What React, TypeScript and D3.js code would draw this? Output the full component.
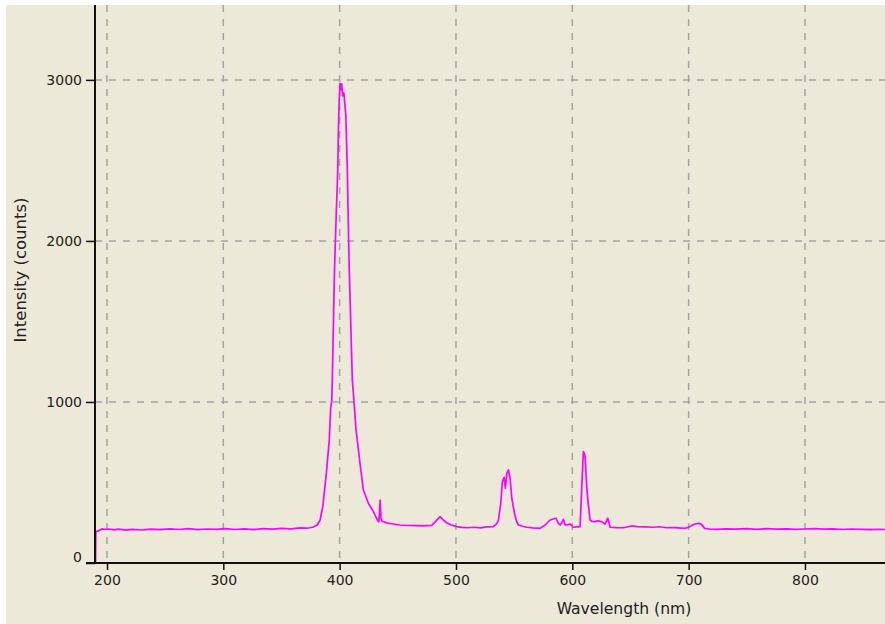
import React, { useEffect, useRef } from "react";
import * as d3 from "d3";

// spectrum, wavelength (nm) / intensity (counts)
const wavelengthNm = [
  190.2, 190.4, 192, 194, 196, 198, 202, 206, 210, 216, 222, 230, 238, 246, 254,
  262, 270, 278, 286, 294, 302, 310, 318, 326, 334, 342, 350, 358, 366, 372, 377,
  380.8, 383.2, 385.5, 388.3, 391.1, 392.3, 393.2, 393.7, 395.5, 397, 398.4, 398.9,
  399.5, 400.3, 401, 401.8, 402.5, 403.6, 405.3, 406.6, 408, 409.5, 410.9, 411.8,
  414.1, 417.5, 420.4, 424.7, 429, 432.4, 433.6, 434.2, 434.8, 435.5, 436, 437.6,
  441, 446.2, 452, 458, 466.3, 472, 479.2, 483, 486.3, 489, 492, 496, 500.6, 505,
  509.2, 516, 521, 526.4, 532.2, 535, 536.5, 538.5, 539.9, 541.4, 542.5, 543.7,
  545.1, 546.5, 548, 550.3, 552, 553.7, 557, 560.9, 566, 572.3, 576.6, 580.9, 583,
  586, 588, 589.5, 591, 592.3, 593.8, 596, 598.1, 600.9, 604, 606.7, 608.1, 609.5,
  610.3, 611, 612.4, 613.8, 615.3, 617, 619.6, 622, 625.3, 628.2, 630.5, 632.5, 638,
  643.9, 651.1, 656, 662, 669.7, 675, 680.8, 688, 696.6, 700, 705.2, 709.5, 711,
  713.8, 718, 723.8, 732, 740, 750, 758, 766.8, 775, 784, 792, 800, 808, 816, 824,
  832, 840, 848, 856, 864, 868.8,
];
const intensityCounts = [
  0, 196, 198, 205, 212, 208, 211, 206, 210, 204, 209, 205, 210, 207, 212,
  208, 213, 207, 211, 209, 214, 208, 212, 207, 213, 210, 215, 212, 218, 216, 222,
  236, 267, 350, 536, 764, 963, 1002, 1137, 1800, 2150, 2441, 2679,
  2850, 2979, 2940, 2975, 2900, 2919, 2783, 2441, 1900, 1500, 1137, 1054,
  826, 619, 453, 371, 319, 267, 255, 300, 390, 280, 262, 257,
  248, 242, 236, 233, 232, 230, 234, 262, 288, 268, 250, 236, 226, 221,
  219, 222, 218, 224, 226, 245, 267, 371, 505, 532, 464, 557,
  578, 526, 402, 309, 260, 236, 228, 222, 218, 215, 236, 267, 272,
  278, 246, 236, 250, 271, 236, 238, 242, 222, 224, 226, 464, 691,
  680, 660, 474, 360, 267, 258, 257, 262, 257, 242, 278, 222, 220,
  219, 230, 226, 224, 222, 225, 219, 220, 215, 222, 242, 246, 240,
  215, 211, 209, 212, 210, 213, 209, 213, 210, 212, 209, 211, 213, 210, 212,
  208, 211, 209, 207, 209, 208,
];
const xTicks = [200, 300, 400, 500, 600, 700, 800];
const yTicks = [0, 1000, 2000, 3000];

export default function App() {
  const svgRef = useRef<SVGSVGElement>(null);

  useEffect(() => {
    const svg = d3.select(svgRef.current);
    svg.selectAll("*").remove();

    const width = 885;
    const height = 624;
    const left = 95;
    const right = 885;
    const top = 5;
    const bottom = 563;
    const font = "DejaVu Sans, Verdana, sans-serif";

    svg.append("rect").attr("width", width).attr("height", height).attr("fill", "#fff");
    svg
      .append("rect")
      .attr("x", 6)
      .attr("y", 5)
      .attr("width", width - 6)
      .attr("height", height - 5)
      .attr("fill", "#ECE9D8");

    const x = d3.scaleLinear().domain([189.7, 868.8]).range([left, right]);
    const y = d3.scaleLinear().domain([0, 3465]).range([bottom, top]);

    // grid
    const grid = svg.append("g").attr("stroke", "#a3a3a3").attr("stroke-width", 1.5).attr("stroke-dasharray", "7,7");
    grid
      .selectAll("line.v")
      .data(xTicks)
      .join("line")
      .attr("class", "v")
      .attr("x1", (d) => x(d))
      .attr("x2", (d) => x(d))
      .attr("y1", top)
      .attr("y2", bottom);
    grid
      .selectAll("line.h")
      .data(yTicks.filter((d) => d > 0))
      .join("line")
      .attr("class", "h")
      .attr("x1", left)
      .attr("x2", right)
      .attr("y1", (d) => y(d))
      .attr("y2", (d) => y(d));

    // spectrum
    const pts = wavelengthNm.map((w, i) => [w, intensityCounts[i]] as [number, number]);
    const line = d3
      .line<[number, number]>()
      .x((d) => x(d[0]))
      .y((d) => y(d[1]));
    svg
      .append("path")
      .datum(pts)
      .attr("d", line)
      .attr("fill", "none")
      .attr("stroke", "#ff00ff")
      .attr("stroke-width", 1.7)
      .attr("stroke-linejoin", "round");

    // axes
    const fmt = d3.format("d");
    const xAxis = svg.append("g").attr("transform", `translate(0,${bottom})`);
    xAxis.call(d3.axisBottom(x).tickValues(xTicks).tickFormat(fmt).tickSize(7).tickSizeOuter(0).tickPadding(5));
    xAxis.select(".domain").remove();
    xAxis
      .append("line")
      .attr("x1", 86)
      .attr("x2", right)
      .attr("stroke", "#111")
      .attr("stroke-width", 2);
    xAxis.selectAll(".tick line").attr("stroke", "#111").attr("stroke-width", 1.5);
    xAxis.selectAll(".tick text").attr("font-family", font).attr("font-size", 14).attr("fill", "#222");

    const yAxis = svg.append("g").attr("transform", `translate(${left},0)`);
    yAxis.call(d3.axisLeft(y).tickValues(yTicks).tickFormat(fmt).tickSize(9).tickSizeOuter(0).tickPadding(4));
    yAxis.select(".domain").remove();
    yAxis
      .append("line")
      .attr("y1", top)
      .attr("y2", bottom)
      .attr("stroke", "#111")
      .attr("stroke-width", 2);
    yAxis.selectAll(".tick line").attr("stroke", "#111").attr("stroke-width", 1.5);
    yAxis
      .selectAll<SVGTextElement, number>(".tick text")
      .attr("font-family", font)
      .attr("font-size", 14)
      .attr("fill", "#222")
      .attr("dy", (d) => (d === 0 ? "-0.1em" : "0.34em"));

    svg
      .append("text")
      .attr("x", 624)
      .attr("y", 614)
      .attr("text-anchor", "middle")
      .attr("font-family", font)
      .attr("font-size", 15.6)
      .attr("fill", "#222")
      .text("Wavelength (nm)");

    svg
      .append("text")
      .attr("transform", "translate(25.5,270) rotate(-90)")
      .attr("text-anchor", "middle")
      .attr("font-family", font)
      .attr("font-size", 16.5)
      .attr("fill", "#222")
      .text("Intensity (counts)");
  }, []);

  return (
    <div style={{ position: "absolute", left: 0, top: 0 }}>
      <svg ref={svgRef} width={885} height={624} style={{ display: "block" }} />
    </div>
  );
}
